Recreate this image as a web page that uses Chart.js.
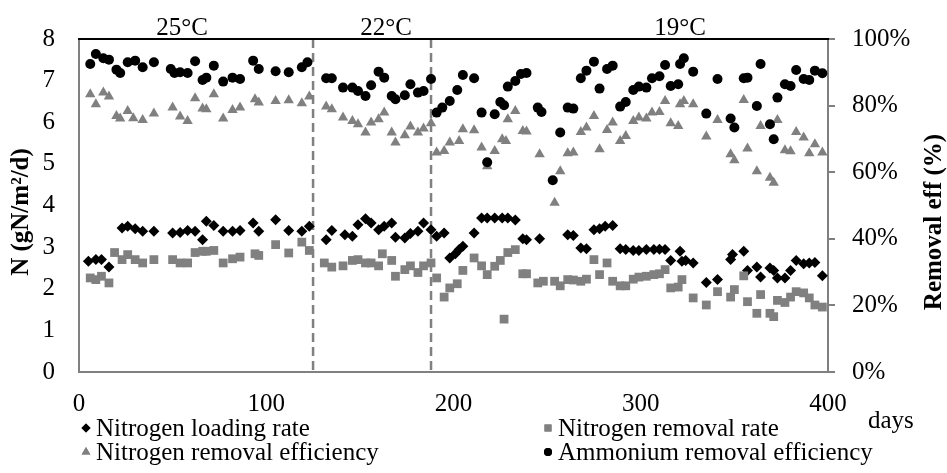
<!DOCTYPE html>
<html lang="en">
<head>
    <meta charset="UTF-8">
    <title>Nitrogen removal performance</title>
    <script src="https://cdn.jsdelivr.net/npm/chart.js"></script>
    <style>
        html, body { margin: 0; padding: 0; background: #fff; }
        #wrap { width: 947px; height: 473px; }
    </style>
</head>
<body>
    <div id="wrap"><canvas id="nChart" width="947" height="473"></canvas></div>

    <script>
        // Nitrogen loading rate (gN/m2/d)
        const loadDays = [5,9,12,16,23,26,30,34,40,50,54,58,62,66,68,72,77,82,86,93,96,105,112,119,123,132,135,142,146,149,153,156,160,163,167,169,174,177,181,184,188,191,195,198,201,203,205,211,215,218,222,226,229,233,237,239,246,261,264,268,271,275,278,281,285,289,292,296,299,303,307,310,313,316,321,322,324,328,335,341,348,349,355,357,362,364,369,371,373,377,380,383,387,390,393,397];
        const loadRate = [2.66,2.70,2.70,2.52,3.46,3.50,3.44,3.38,3.38,3.34,3.35,3.40,3.38,3.18,3.62,3.52,3.38,3.38,3.40,3.58,3.38,3.66,3.40,3.38,3.50,3.18,3.40,3.30,3.26,3.54,3.68,3.58,3.42,3.50,3.58,3.24,3.22,3.33,3.38,3.58,3.42,3.26,3.34,2.74,2.84,2.94,3.02,3.34,3.70,3.70,3.70,3.70,3.70,3.65,3.20,3.18,3.20,3.30,3.28,2.98,2.96,3.42,3.44,3.50,3.52,2.96,2.94,2.92,2.92,2.94,2.94,2.95,2.94,2.68,2.90,2.66,2.68,2.62,2.15,2.22,2.70,2.82,2.90,2.44,2.52,2.28,2.50,2.44,2.26,2.26,2.44,2.68,2.60,2.62,2.63,2.31];

        // Nitrogen removal rate (gN/m2/d)
        const removalRateDays = [6,9,12,16,19,23,26,30,34,40,50,54,58,62,66,68,72,77,82,86,94,96,105,112,119,123,131,135,141,146,149,153,156,160,162,167,169,174,177,181,184,188,191,195,198,202,205,211,215,218,222,225,227,229,233,237,239,245,248,254,257,261,264,268,271,275,278,282,285,289,292,296,299,303,307,310,313,316,320,322,328,335,341,348,350,355,357,362,364,369,371,373,377,380,383,387,390,393,397];
        const removalRate = [2.26,2.22,2.30,2.14,2.87,2.70,2.82,2.70,2.62,2.70,2.70,2.62,2.62,2.87,2.90,2.90,2.92,2.62,2.72,2.76,2.84,2.80,3.06,2.86,3.12,2.92,2.62,2.52,2.55,2.68,2.70,2.62,2.62,2.55,2.84,2.68,2.30,2.46,2.55,2.39,2.55,2.62,2.26,1.80,2.02,2.12,2.44,2.74,2.55,2.34,2.54,2.68,1.27,2.87,2.94,2.36,2.36,2.14,2.18,2.18,2.07,2.22,2.21,2.18,2.23,2.70,2.34,2.62,2.18,2.07,2.07,2.23,2.28,2.30,2.34,2.36,2.46,2.02,2.04,2.22,1.78,1.61,1.93,1.80,1.98,2.31,1.69,1.41,1.86,1.41,1.33,1.72,1.67,1.80,1.93,1.90,1.78,1.61,1.56];

        // Nitrogen removal efficiency (%)
        const removalEffDays = [6,9,13,16,20,22,26,29,34,40,50,54,58,62,66,68,72,77,82,86,94,96,105,112,119,123,132,135,141,146,149,153,156,160,163,167,169,174,177,181,184,188,191,195,198,203,205,211,215,218,222,226,228,229,233,237,239,246,254,257,261,264,268,271,275,278,282,285,289,292,296,299,303,306,310,313,316,320,321,323,328,335,341,348,350,355,357,362,364,369,371,373,377,380,383,387,390,393,397];
        const removalEff = [83.4,80.4,83.9,82.7,76.9,76.1,78.4,76.2,75.7,77.6,79.4,76.7,75.4,82.2,79.1,78.9,83.4,76.1,78.7,79.4,81.9,80.9,81.4,81.6,80.7,82.7,79.7,78.9,76.4,75.4,74.4,71.9,74.9,75.9,77.9,71.9,68.9,71.1,73.7,71.9,73.1,74.7,65.9,66.4,68.9,69.4,72.9,72.6,67.4,61.8,66.4,69.9,69.4,75.9,78.4,72.4,72.2,65.4,50.8,60.3,65.7,65.9,72.1,73.4,76.9,66.9,72.7,74.9,69.4,70.9,75.4,76.4,76.1,77.9,78.1,81.4,74.7,73.9,80.4,81.4,80.4,70.7,75.7,65.4,63.6,81.7,67.1,60.3,73.9,58.3,56.8,75.7,66.6,66.3,72.1,70.4,65.7,68.4,65.9];

        // Ammonium removal efficiency (%)
        const ammoniumDays = [6,9,13,16,20,22,26,30,34,40,49,51,54,58,62,66,68,72,77,82,86,93,96,105,112,119,122,132,135,141,146,149,153,156,160,163,167,169,174,177,181,184,188,191,194,198,202,205,211,215,218,222,225,227,229,233,236,239,245,247,253,257,261,264,268,271,275,278,282,285,289,292,296,299,303,306,310,313,316,320,321,323,328,335,341,348,350,355,357,362,364,369,371,373,377,380,383,387,390,393,397];
        const ammoniumEff = [92.5,95.5,94.2,93.8,90.8,89.8,93.0,93.5,91.5,93.0,91.0,89.8,90.0,89.8,93.3,87.7,88.4,92.0,87.2,88.4,88.0,93.5,91.0,90.3,90.0,91.5,93.0,88.2,88.2,85.4,85.4,84.4,82.9,86.1,90.2,88.4,82.9,81.9,83.1,86.4,83.9,84.4,88.0,77.9,79.4,81.4,84.7,89.2,88.2,77.9,63.0,77.4,81.1,80.1,85.7,87.4,89.5,89.8,79.4,78.1,57.6,71.9,79.4,79.1,88.2,90.5,93.2,85.1,91.0,92.0,79.7,81.1,84.7,85.7,85.4,88.2,88.8,92.2,85.9,86.4,92.5,94.2,90.2,77.6,88.0,76.1,73.4,88.2,88.4,79.9,92.5,74.4,69.9,82.4,86.4,85.9,90.7,88.0,87.7,90.5,89.7];

        // Temperature phases
        const phaseBounds = [125, 188];
        const phaseLabels = ['25°C', '22°C', '19°C'];
        const phaseLabelDays = [55, 164, 321];

        const FONT = '"Liberation Serif", "Times New Roman", serif';
        const GREY = '#808080';

        function pairs(xs, ys) {
            return xs.map((x, i) => ({ x: x, y: ys[i] }));
        }

        // Extra drawing: phase lines, top border, titles, legend
        const decorPlugin = {
            id: 'decor',
            beforeDatasetsDraw(chart) {
                const { ctx, chartArea: a, scales: { x } } = chart;
                ctx.save();
                ctx.strokeStyle = GREY;
                ctx.lineWidth = 2.5;
                ctx.setLineDash([9, 5]);
                phaseBounds.forEach(d => {
                    const px = x.getPixelForValue(d);
                    ctx.beginPath();
                    ctx.moveTo(px, a.top);
                    ctx.lineTo(px, a.bottom);
                    ctx.stroke();
                });
                ctx.restore();
            },
            afterDraw(chart) {
                const { ctx, chartArea: a, scales: { x } } = chart;
                ctx.save();

                // top frame line
                ctx.strokeStyle = '#000';
                ctx.lineWidth = 2;
                ctx.beginPath();
                ctx.moveTo(a.left - 1, a.top);
                ctx.lineTo(a.right + 1, a.top);
                ctx.stroke();

                ctx.fillStyle = '#000';
                ctx.font = '25px ' + FONT;

                // temperature labels
                ctx.textAlign = 'center';
                ctx.textBaseline = 'alphabetic';
                phaseLabels.forEach((t, i) => {
                    ctx.fillText(t, x.getPixelForValue(phaseLabelDays[i]), 35);
                });

                // x unit
                ctx.textAlign = 'left';
                ctx.fillText('days', 868, 428);

                // axis titles, both read bottom to top
                ctx.font = 'bold 25px ' + FONT;
                ctx.textAlign = 'center';
                ctx.textBaseline = 'middle';
                [['N (gN/m²/d)', 22, 212], ['Removal eff (%)', 935, 222]].forEach(([t, cx, cy]) => {
                    ctx.save();
                    ctx.translate(cx, cy);
                    ctx.rotate(-Math.PI / 2);
                    ctx.fillText(t, 0, 0);
                    ctx.restore();
                });

                // legend in two columns
                const cols = [86, 548];
                const rows = [428, 452];
                ctx.font = '25px ' + FONT;
                ctx.textAlign = 'left';
                ctx.textBaseline = 'middle';
                chart.data.datasets.forEach((ds, i) => {
                    const cx = cols[i % 2];
                    const cy = rows[Math.floor(i / 2)];
                    ctx.fillStyle = ds.backgroundColor;
                    Chart.helpers.drawPoint(ctx, {
                        pointStyle: ds.pointStyle,
                        radius: ds.legendRadius,
                        borderWidth: 0,
                        rotation: 0
                    }, cx, cy);
                    ctx.fill();
                    ctx.fillStyle = '#000';
                    ctx.fillText(ds.label, cx + 10, cy + 1);
                });

                ctx.restore();
            }
        };

        new Chart(document.getElementById('nChart'), {
            type: 'scatter',
            data: {
                datasets: [
                    {
                        label: 'Nitrogen loading rate',
                        data: pairs(loadDays, loadRate),
                        yAxisID: 'y',
                        pointStyle: 'rectRot',
                        pointRadius: 5.5,
                        legendRadius: 4.5,
                        backgroundColor: '#000',
                        borderColor: '#000',
                        borderWidth: 0,
                        order: 4
                    },
                    {
                        label: 'Nitrogen removal rate',
                        data: pairs(removalRateDays, removalRate),
                        yAxisID: 'y',
                        pointStyle: 'rect',
                        pointRadius: 6.2,
                        legendRadius: 5,
                        backgroundColor: GREY,
                        borderColor: GREY,
                        borderWidth: 0,
                        order: 3
                    },
                    {
                        label: 'Nitrogen removal efficiency',
                        data: pairs(removalEffDays, removalEff),
                        yAxisID: 'y2',
                        pointStyle: 'triangle',
                        pointRadius: 6,
                        legendRadius: 5,
                        backgroundColor: GREY,
                        borderColor: GREY,
                        borderWidth: 0,
                        order: 2
                    },
                    {
                        label: 'Ammonium removal efficiency',
                        data: pairs(ammoniumDays, ammoniumEff),
                        yAxisID: 'y2',
                        pointStyle: 'circle',
                        pointRadius: 5,
                        legendRadius: 4,
                        backgroundColor: '#000',
                        borderColor: '#000',
                        borderWidth: 0,
                        order: 1
                    }
                ]
            },
            options: {
                responsive: false,
                animation: false,
                events: [],
                layout: { padding: { top: 39, left: 0, right: 0, bottom: 0 } },
                plugins: {
                    legend: { display: false },
                    tooltip: { enabled: false }
                },
                scales: {
                    x: {
                        type: 'linear',
                        min: 0,
                        max: 400,
                        ticks: { stepSize: 100, padding: 17, color: '#000', font: { family: FONT, size: 25 } },
                        grid: { display: false, drawTicks: false },
                        border: { display: true, color: GREY, width: 2 },
                        afterFit(s) { s.height = 101; }
                    },
                    y: {
                        position: 'left',
                        min: 0,
                        max: 8,
                        ticks: { stepSize: 1, padding: 24, color: '#000', font: { family: FONT, size: 25 } },
                        grid: { display: false, drawTicks: false },
                        border: { display: true, color: GREY, width: 2 },
                        afterFit(s) { s.width = 79; }
                    },
                    y2: {
                        position: 'right',
                        min: 0,
                        max: 100,
                        ticks: {
                            stepSize: 20,
                            padding: 17,
                            color: '#000',
                            font: { family: FONT, size: 25 },
                            callback: v => v + '%'
                        },
                        grid: { display: true, drawOnChartArea: false, drawTicks: true, tickLength: 7, color: GREY, lineWidth: 2 },
                        border: { display: true, color: GREY, width: 2 },
                        afterFit(s) { s.width = 119; }
                    }
                }
            },
            plugins: [decorPlugin]
        });
    </script>
</body>
</html>
